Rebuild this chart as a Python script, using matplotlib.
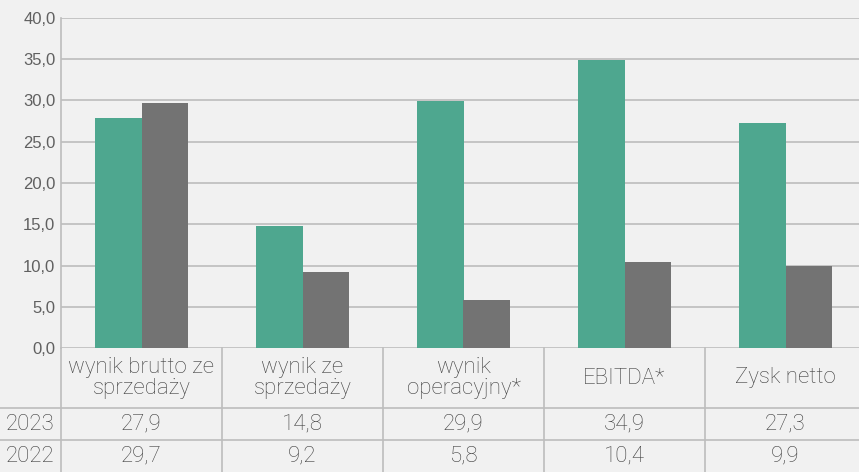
import matplotlib.pyplot as plt
import numpy as np

categories = ["wynik brutto ze\nsprzedaży", "wynik ze\nsprzedaży", "wynik\noperacyjny*", "EBITDA*", "Zysk netto"]
years = ["2023", "2022"]
v2023 = [27.9, 14.8, 29.9, 34.9, 27.3]
v2022 = [29.7, 9.2, 5.8, 10.4, 9.9]
yticks = [0, 5, 10, 15, 20, 25, 30, 35, 40]

BG = "#f1f1f1"
TEAL = "#4ea78f"
GRAY = "#737373"
LINE = "#bdbdbd"
TXT = "#3f3f3f"

W, H = 859, 472
fig = plt.figure(figsize=(W / 100, H / 100), dpi=100, facecolor=BG)

# chart area (right edge runs past the image like in the reference)
left, right, top, bottom = 61, 866, 18, 348
ax = fig.add_axes([left / W, (H - bottom) / H, (right - left) / W, (bottom - top) / H])
ax.set_facecolor(BG)
x = np.arange(len(categories))
bw = 0.286
ax.bar(x - bw / 2, v2023, bw, color=TEAL, zorder=3)
ax.bar(x + bw / 2, v2022, bw, color=GRAY, zorder=3)
ax.set_xlim(-0.5, len(categories) - 0.5)
ax.set_ylim(0, 40)
ax.set_yticks(yticks)
ax.set_yticklabels([f"{t:.1f}".replace(".", ",") for t in yticks],
                   fontsize=12, color="#606060", family="Liberation Sans")
ax.tick_params(axis="y", length=0, pad=4)
ax.set_xticks([])
ax.grid(axis="y", color=LINE, lw=1.2, zorder=0)
for s in ["top", "right", "bottom"]:
    ax.spines[s].set_visible(False)
ax.spines["left"].set_color(LINE)
ax.spines["left"].set_linewidth(1.2)

# data table under the chart
tab = fig.add_axes([0, 0, right / W, (H - bottom) / H])
tab.set_facecolor("none")
tab.set_xlim(-0.5 - left / 161, len(categories) - 0.5)
tab.set_ylim(0, H - bottom)
tab.axis("off")
row_y = [H - 408, H - 440, 0]
x0 = -0.5 - left / 161
for b in np.arange(-0.5, len(categories)):
    tab.plot([b, b], [0, H - bottom], color=LINE, lw=1.2, clip_on=False)
for yy in row_y[:2]:
    tab.plot([x0, len(categories) - 0.5], [yy, yy], color=LINE, lw=1.2, clip_on=False)

font = dict(family="Roboto", weight="light", color=TXT, fontsize=16, ha="center", va="center")
for i, c in enumerate(categories):
    tab.text(i, (H - bottom + row_y[0]) / 2, c, linespacing=1.05, **font)
    tab.text(i, (row_y[0] + row_y[1]) / 2, f"{v2023[i]:.1f}".replace(".", ","), **font)
    tab.text(i, (row_y[1] + 0) / 2, f"{v2022[i]:.1f}".replace(".", ","), **font)
tab.text((x0 - 0.5) / 2, (row_y[0] + row_y[1]) / 2, years[0], **font)
tab.text((x0 - 0.5) / 2, row_y[1] / 2, years[1], **font)

fig.savefig("out.png", dpi=100, facecolor=BG)
